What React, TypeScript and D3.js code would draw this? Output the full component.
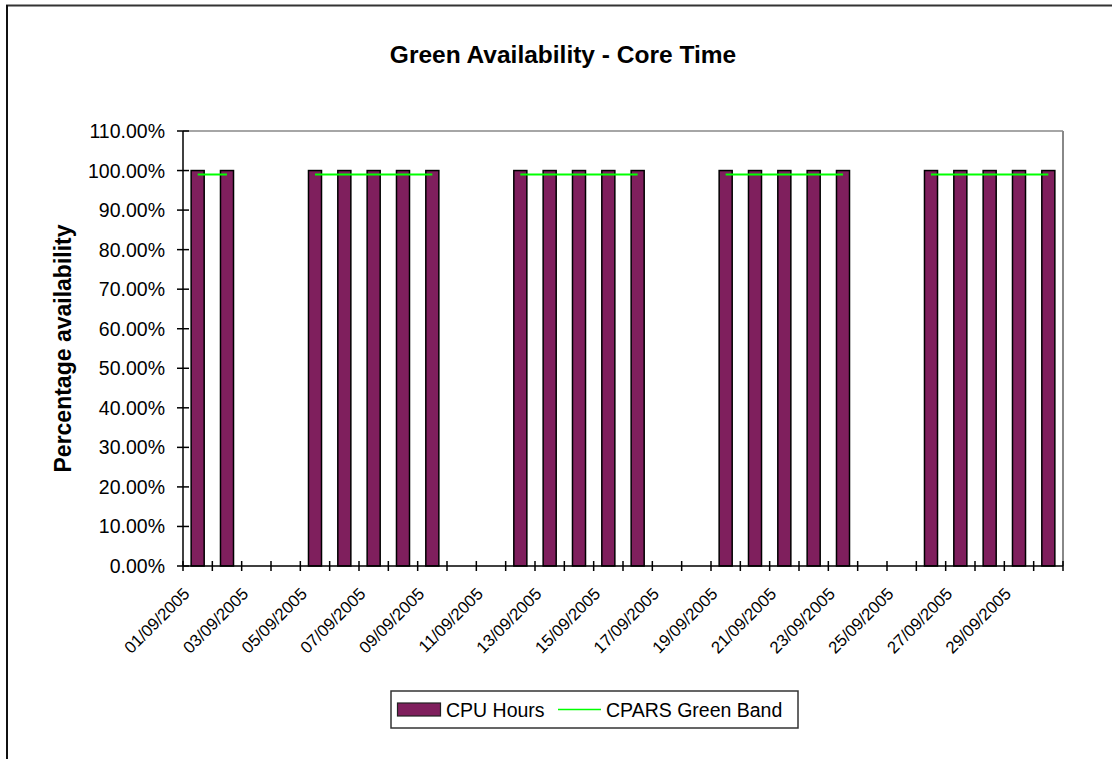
import React from "react";
import * as d3 from "d3";

const dates: string[] = Array.from({ length: 30 }, (_, i) =>
  `${String(i + 1).padStart(2, "0")}/09/2005`
);
// CPU Hours availability (fraction), null = weekend (no bar)
const cpuHours: (number | null)[] = [
  1, 1, null, null, 1, 1, 1, 1, 1, null, null, 1, 1, 1, 1, 1, null, null,
  1, 1, 1, 1, 1, null, null, 1, 1, 1, 1, 1,
];
// CPARS Green Band
const greenBand: (number | null)[] = [
  0.99, 0.99, null, null, 0.99, 0.99, 0.99, 0.99, 0.99, null, null, 0.99,
  0.99, 0.99, 0.99, 0.99, null, null, 0.99, 0.99, 0.99, 0.99, 0.99, null,
  null, 0.99, 0.99, 0.99, 0.99, 0.99,
];
const yTicks: number[] = [0, 0.1, 0.2, 0.3, 0.4, 0.5, 0.6, 0.7, 0.8, 0.9, 1.0, 1.1];

const W = 1112;
const H = 759;
const L = 183;
const R = 1063;
const T = 131;
const B = 566;
const FONT = "'Liberation Sans', Arial, Helvetica, sans-serif";
const BAR_FILL = "#7f1f5d";
const GREEN = "#00ff00";

export default function App() {
  const x = d3.scaleBand<string>().domain(dates).range([L, R]).padding(0);
  const y = d3.scaleLinear().domain([0, 1.1]).range([B, T]);
  const bw = x.bandwidth();
  const barW = bw / 2.25;
  const cx = (d: string) => (x(d) as number) + bw / 2;

  const line = d3
    .line<number | null>()
    .defined((d) => d != null)
    .x((_, i) => cx(dates[i]))
    .y((d) => y(d as number));

  const fmt = d3.format(".2%");

  return (
    <svg
      width={W}
      height={H}
      style={{ position: "absolute", left: 0, top: 0, background: "#fff" }}
      fontFamily={FONT}
    >
      <rect x={0} y={0} width={W} height={H} fill="#fff" />
      {/* chart area border */}
      <line x1={6} y1={5.5} x2={W} y2={5.5} stroke="#333" strokeWidth={2} />
      <line x1={7} y1={5} x2={7} y2={H} stroke="#111" strokeWidth={2} />

      {/* title */}
      <text
        x={563}
        y={63}
        textAnchor="middle"
        fontWeight="bold"
        fontSize={24.5}
        fill="#000"
      >
        Green Availability - Core Time
      </text>

      {/* plot frame */}
      <line x1={L} y1={T} x2={R} y2={T} stroke="#888" strokeWidth={1.5} />
      <line x1={R} y1={T} x2={R} y2={B} stroke="#888" strokeWidth={2} />

      {/* bars */}
      {cpuHours.map((v, i) =>
        v == null ? null : (
          <rect
            key={"b" + i}
            x={cx(dates[i]) - barW / 2}
            y={y(v)}
            width={barW}
            height={B - y(v)}
            fill={BAR_FILL}
            stroke="#000"
            strokeWidth={1.5}
          />
        )
      )}

      {/* green band line */}
      <path d={line(greenBand) || ""} fill="none" stroke={GREEN} strokeWidth={2} />

      {/* y axis */}
      <line x1={L} y1={T} x2={L} y2={B} stroke="#000" strokeWidth={1.5} />
      {yTicks.map((t) => (
        <g key={"y" + t}>
          <line x1={L - 6} x2={L + 6} y1={y(t)} y2={y(t)} stroke="#000" strokeWidth={1.5} />
          <text
            x={165}
            y={y(t)}
            dy="0.36em"
            textAnchor="end"
            fontSize={19.5}
            fill="#000"
          >
            {fmt(t)}
          </text>
        </g>
      ))}

      {/* x axis */}
      <line x1={L} y1={B} x2={R} y2={B} stroke="#000" strokeWidth={1.5} />
      {dates.map((d, i) => (
        <line
          key={"xt" + i}
          x1={x(d) as number}
          x2={x(d) as number}
          y1={B - 5}
          y2={B + 5}
          stroke="#000"
          strokeWidth={1.5}
        />
      ))}
      <line x1={R} x2={R} y1={B - 5} y2={B + 5} stroke="#000" strokeWidth={1.5} />
      {dates.map((d, i) =>
        i % 2 === 0 ? (
          <text
            key={"xl" + i}
            transform={`translate(${cx(d) - 7},${B + 29}) rotate(-45)`}
            textAnchor="end"
            fontSize={16.8}
            fill="#000"
          >
            {d}
          </text>
        ) : null
      )}

      {/* y axis title */}
      <text
        transform={`translate(71,${(T + B) / 2}) rotate(-90)`}
        textAnchor="middle"
        fontWeight="bold"
        fontSize={23}
        fill="#000"
      >
        Percentage availability
      </text>

      {/* legend */}
      <rect x={391} y={691} width={407} height={37} fill="#fff" stroke="#333" strokeWidth={1.5} />
      <rect x={397.5} y={703} width={43} height={13} fill={BAR_FILL} stroke="#222" strokeWidth={1.2} />
      <text x={446} y={716.5} fontSize={19.5} fill="#000">
        CPU Hours
      </text>
      <line x1={558} x2={601} y1={709.5} y2={709.5} stroke={GREEN} strokeWidth={1.5} />
      <text x={606} y={716.5} fontSize={19.5} fill="#000">
        CPARS Green Band
      </text>
    </svg>
  );
}
